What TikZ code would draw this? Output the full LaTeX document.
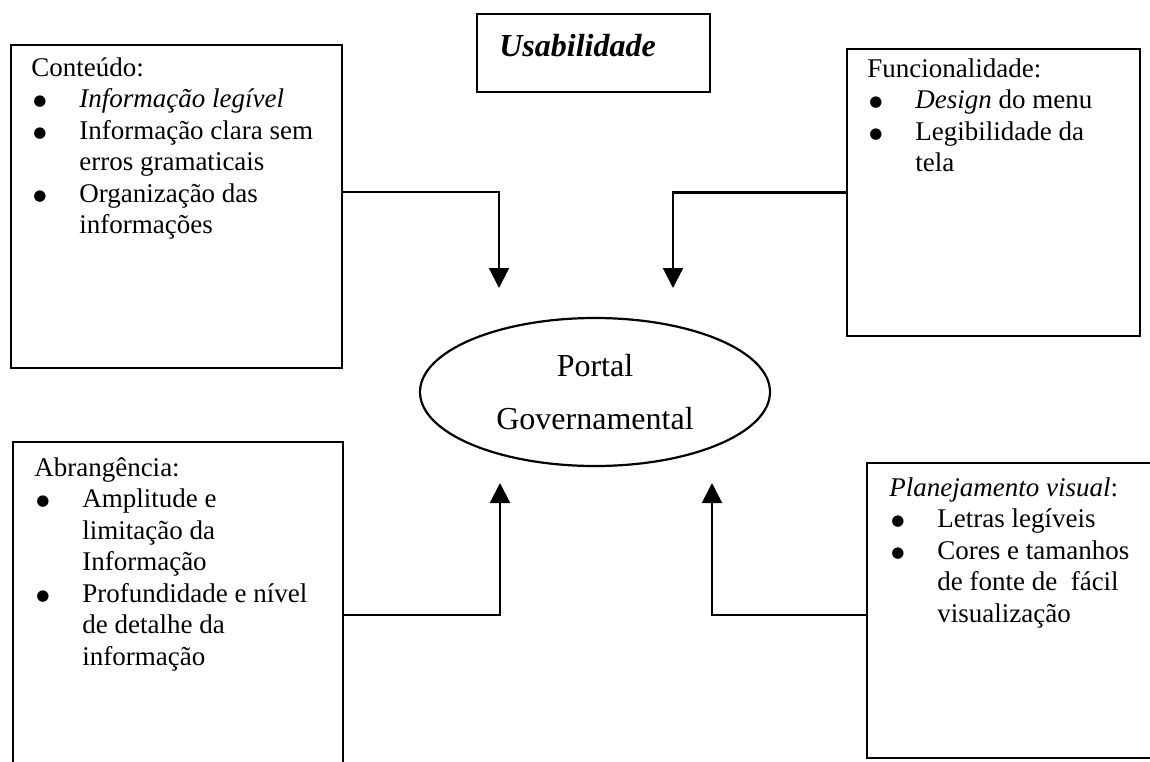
\documentclass[tikz,border=0pt]{standalone}
\usepackage{fontspec}
\setmainfont{Liberation Serif}
\newfontfamily\simb{DejaVu Sans}
\usetikzlibrary{arrows.meta,calc,shapes.geometric}

\tikzset{
  caixa/.style={draw, line width=1.1pt, inner sep=0pt},
  texto/.style={anchor=north west, inner sep=0pt, font=\fontsize{13.5}{15.75}\selectfont},
  seta/.style={line width=1.1pt, -{Triangle[length=10pt,width=10pt]}},
}
\newcommand{\blt}{\hspace{1pt}\raisebox{1pt}{\simb\fontsize{7.5}{9}\selectfont ●}}

\begin{document}
\begin{tikzpicture}[x=0.5pt,y=0.5pt,yscale=-1]
	\useasboundingbox (0,0) rectangle (1150,761);
	\clip (0,0) rectangle (1150,761);
	
	%Boxes
	\node[caixa, minimum width=116.5pt, minimum height=39pt] (usab) at (593.5,53) {};
	\node[caixa, minimum width=165.5pt, minimum height=161.5pt] (cont) at (176.5,206.5) {};
	\node[caixa, minimum width=146.5pt, minimum height=143.5pt] (func) at (993.5,192.5) {};
	\node[caixa, minimum width=165pt, minimum height=179pt] (abr) at (178,621) {};
	\node[caixa, minimum width=149pt, minimum height=147.5pt] (plan) at (1016,610.5) {};
	
	%Ellipse
	\node[draw, ellipse, line width=1.1pt, minimum width=175pt, minimum height=74pt, align=center, font=\fontsize{16}{26.5}\selectfont] (portal) at (595,392) {Portal\\Governamental};
	
	% Text Node
	\node[anchor=base west, inner sep=0pt, font=\fontsize{16}{19}\selectfont\bfseries\itshape] (usabT) at ($(usab.north west)+(23,44)$) {Usabilidade};
	% Text Node
	\node[texto] (contT) at ($(cont.north west)+(21,10)$) {\begin{tabular}{@{}p{24pt}@{}l@{}}
		\multicolumn{2}{@{}l@{}}{Conteúdo:}\\
		\blt & \textit{Informação legível}\\
		\blt & Informação clara sem\\
		     & erros gramaticais\\
		\blt & Organização das\\
		     & informações
	\end{tabular}};
	% Text Node
	\node[texto] (funcT) at ($(func.north west)+(21,7)$) {\begin{tabular}{@{}p{24pt}@{}l@{}}
		\multicolumn{2}{@{}l@{}}{Funcionalidade:}\\
		\blt & \textit{Design} do menu\\
		\blt & Legibilidade da\\
		     & tela
	\end{tabular}};
	% Text Node
	\node[texto] (abrT) at ($(abr.north west)+(22,13)$) {\begin{tabular}{@{}p{24pt}@{}l@{}}
		\multicolumn{2}{@{}l@{}}{Abrangência:}\\
		\blt & Amplitude e\\
		     & limitação da\\
		     & Informação\\
		\blt & Profundidade e nível\\
		     & de detalhe da\\
		     & informação
	\end{tabular}};
	% Text Node
	\node[texto] (planT) at ($(plan.north west)+(23,12)$) {\begin{tabular}{@{}p{24pt}@{}l@{}}
		\multicolumn{2}{@{}l@{}}{\textit{Planejamento visual}:}\\
		\blt & Letras legíveis\\
		\blt & Cores e tamanhos\\
		     & de fonte de \ fácil\\
		     & visualização
	\end{tabular}};
	
	%Arrows
	\coordinate (tipA) at (499,288);
	\coordinate (tipB) at (673,288);
	\coordinate (tipC) at (500,483);
	\coordinate (tipD) at (712,483);
	\draw[seta] ($(cont.east)+(0,-14.5)$) -| (tipA);
	\draw[seta] (func.west) -| (tipB);
	\draw[seta] ($(abr.east)+(0,-6)$) -| (tipC);
	\draw[seta] ($(plan.west)+(0,4.5)$) -| (tipD);
\end{tikzpicture}
\end{document}
